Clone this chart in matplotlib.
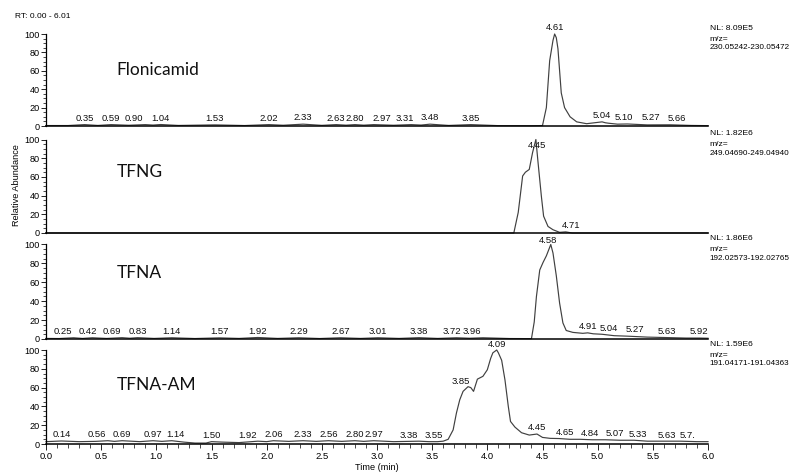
import numpy as np
import matplotlib
matplotlib.use("Agg")
import matplotlib.pyplot as plt
from matplotlib.ticker import MultipleLocator

plt.rcParams['font.family'] = ['Liberation Sans', 'DejaVu Sans']

# ---- data (time in min, relative abundance %) ----
flon_t = [0.00, 0.20, 0.35, 0.47, 0.59, 0.75, 0.90, 0.97, 1.04, 1.20, 1.53, 1.80, 2.02, 2.15,
          2.33, 2.50, 2.63, 2.72, 2.80, 2.88, 2.97, 3.15, 3.31, 3.40, 3.48, 3.65, 3.85, 4.10,
          4.40, 4.50, 4.535, 4.565, 4.595, 4.61, 4.625, 4.64, 4.655, 4.67, 4.70, 4.75, 4.81,
          4.90, 4.97, 5.04, 5.07, 5.10, 5.18, 5.27, 5.45, 5.66, 5.85, 6.00]
flon_y = [0.5, 0.5, 1.5, 0.6, 1.5, 0.8, 1.5, 1.0, 1.6, 0.6, 1.2, 0.5, 1.5, 0.8,
          2.0, 0.7, 1.5, 0.9, 1.5, 0.9, 1.5, 0.8, 1.5, 1.0, 2.0, 0.6, 1.5, 0.4,
          0.3, 0.5, 20, 71, 93, 100, 96, 84, 60, 36, 20, 10, 4.5,
          2.5, 3.5, 4.5, 3.5, 3.0, 2.0, 2.2, 1.2, 1.3, 0.6, 0.4]
flon_labels = ['0.35', '0.59', '0.90', '1.04', '1.53', '2.02', '2.33', '2.63', '2.80', '2.97',
               '3.31', '3.48', '3.85', '4.61', '5.04', '5.10', '5.27', '5.66']

tfng_t = [0.00, 4.24, 4.28, 4.32, 4.345, 4.38, 4.41, 4.44, 4.46, 4.49, 4.51, 4.55, 4.595,
          4.655, 4.71, 4.77, 6.00]
tfng_y = [0, 0, 22, 61, 65, 68, 86, 100, 75, 39, 18, 7, 3.5,
          0.7, 1.2, 0, 0]
tfng_labels = ['4.45', '4.71']

tfna_t = [0.00, 0.12, 0.25, 0.33, 0.42, 0.55, 0.69, 0.76, 0.83, 0.98, 1.14, 1.35, 1.57,
          1.75, 1.92, 2.10, 2.29, 2.48, 2.67, 2.85, 3.01, 3.20, 3.38, 3.55, 3.72, 3.84,
          3.96, 4.20, 4.40, 4.425, 4.445, 4.475, 4.505, 4.535, 4.575, 4.595, 4.625, 4.655,
          4.685, 4.715, 4.775, 4.865, 4.91, 4.96, 5.04, 5.15, 5.27, 5.45, 5.63, 5.80, 5.92, 6.00]
tfna_y = [0.6, 0.5, 1.3, 0.6, 1.3, 0.6, 1.4, 0.8, 1.4, 0.6, 1.3, 0.5, 1.2,
          0.6, 1.6, 0.6, 1.3, 0.5, 1.3, 0.6, 1.3, 0.6, 1.4, 0.6, 1.3, 0.8,
          1.3, 0.5, 0.4, 18, 45, 73, 81, 88, 100, 91, 67, 38,
          17, 9, 7, 6, 6.5, 5.5, 5.0, 3.5, 3.0, 2.0, 1.5, 1.0, 1.0, 0.8]
tfna_labels = ['0.25', '0.42', '0.69', '0.83', '1.14', '1.57', '1.92', '2.29', '2.67', '3.01',
               '3.38', '3.72', '3.96', '4.58', '4.91', '5.04', '5.27', '5.63', '5.92']

am_t = [0.00, 0.14, 0.30, 0.45, 0.56, 0.62, 0.69, 0.85, 0.97, 1.05, 1.14, 1.25, 1.35, 1.45,
        1.50, 1.60, 1.75, 1.92, 2.00, 2.06, 2.20, 2.33, 2.45, 2.56, 2.68, 2.80, 2.88, 2.97,
        3.15, 3.38, 3.47, 3.55, 3.60, 3.645, 3.69, 3.72, 3.75, 3.78, 3.825, 3.85, 3.875,
        3.91, 3.96, 4.00, 4.03, 4.05, 4.085, 4.10, 4.13, 4.16, 4.19, 4.21, 4.25, 4.31, 4.38,
        4.45, 4.50, 4.57, 4.65, 4.75, 4.84, 4.95, 5.07, 5.20, 5.33, 5.45, 5.63, 5.75, 5.90, 6.00]
am_y = [2.5, 3.2, 2.5, 2.8, 3.5, 2.8, 3.5, 2.5, 3.5, 2.8, 3.5, 2.0, 1.0, 1.0,
        2.5, 2.0, 1.5, 3.0, 2.5, 3.5, 2.8, 3.5, 2.8, 3.5, 2.8, 3.5, 2.8, 3.5,
        2.5, 3.0, 2.5, 2.5, 3.0, 5, 15, 33, 47, 56, 61, 60, 56,
        69, 72, 79, 91, 97, 100, 97, 89, 68, 40, 24, 18, 12, 9.5,
        10.6, 7, 6, 5.8, 5.0, 5.0, 4.5, 4.5, 4.0, 4.0, 3.0, 3.0, 3.0, 2.5, 2.5]
am_labels = ['0.14', '0.56', '0.69', '0.97', '1.14', '1.50', '1.92', '2.06', '2.33', '2.56',
             '2.80', '2.97', '3.38', '3.55', '3.85', '4.09', '4.45', '4.65', '4.84', '5.07',
             '5.33', '5.63', '5.7.']

names = ['Flonicamid', 'TFNG', 'TFNA', 'TFNA-AM']
nl_text = ['NL: 8.09E5', 'NL: 1.82E6', 'NL: 1.86E6', 'NL: 1.59E6']
mz_text = ['230.05242-230.05472', '249.04690-249.04940',
           '192.02573-192.02765', '191.04171-191.04363']

traces = [(flon_t, flon_y, flon_labels), (tfng_t, tfng_y, tfng_labels),
          (tfna_t, tfna_y, tfna_labels), (am_t, am_y, am_labels)]

# label nudges (pixels) where the software spread crowded labels apart
nudge = [
    {'0.90': -11, '2.97': 8, '3.31': -6, '5.10': 15, '5.27': 24, '5.66': 6},
    {'4.71': 5},
    {'0.25': -11, '0.42': -4, '0.69': -10, '3.72': -5, '3.96': -11, '4.58': -3,
     '5.04': 7, '5.27': 8},
    {'0.56': -11, '1.14': 4, '1.92': -10, '3.38': -10, '3.55': -4, '3.85': -10,
     '4.65': 6, '4.84': 10, '5.07': 10, '5.33': 4, '5.7.': 13},
]

# panel pixel extents (top, bottom) in the 794x474 figure
W, H = 794, 474
x0, x1 = 46, 708
panels_px = [(34, 126), (139.5, 233), (244.5, 339), (350, 444)]
name_pos = [0.61, 0.656, 0.695, 0.628]

fig = plt.figure(figsize=(W / 100, H / 100), dpi=100)
fig.text(15 / W, 1 - 16 / H, 'RT: 0.00 - 6.01', fontsize=6, va='center', ha='left')
fig.text(17 / W, 1 - 185 / H, 'Relative Abundance', fontsize=6.6, rotation=90,
         va='center', ha='center')

line_col = '#404040'
for i, (t, y, labels) in enumerate(traces):
    top, bot = panels_px[i]
    ax = fig.add_axes([x0 / W, 1 - bot / H, (x1 - x0) / W, (bot - top) / H])
    ax.plot(t, y, color=line_col, lw=0.85, clip_on=False)
    ax.set_xlim(0, 6)
    ax.set_ylim(0, 100)
    for s in ['top', 'right']:
        ax.spines[s].set_visible(False)
    ax.spines['left'].set_linewidth(0.9)
    ax.spines['bottom'].set_linewidth(1.1)

    ax.yaxis.set_major_locator(MultipleLocator(20))
    ax.yaxis.set_minor_locator(MultipleLocator(5))
    ax.tick_params(axis='y', which='major', length=3.5, width=0.6, pad=1.2, labelsize=6.6)
    ax.tick_params(axis='y', which='minor', length=2, width=0.5)

    if i < 3:
        ax.tick_params(axis='x', which='both', bottom=False, labelbottom=False)
    else:
        ax.xaxis.set_major_locator(MultipleLocator(0.5))
        ax.xaxis.set_minor_locator(MultipleLocator(0.1))
        ax.xaxis.set_major_formatter(lambda v, p: f'{v:.1f}')
        ax.tick_params(axis='x', which='major', length=4, width=0.6, pad=2, labelsize=6.8)
        ax.tick_params(axis='x', which='minor', length=3, width=0.5)
        ax.set_xlabel('Time (min)', fontsize=6.6, labelpad=1.5)

    # peak retention-time labels
    for lab in labels:
        rt = float(lab.rstrip('.'))
        yv = float(np.interp(rt, t, y))
        dx = nudge[i].get(lab, 0) * 0.72
        ax.annotate(lab, xy=(rt, yv), xytext=(dx, 1.2), textcoords='offset points',
                    ha='center', va='bottom', fontsize=6.8, color='#111111')

    # compound name
    ax.text(0.107, name_pos[i], names[i], transform=ax.transAxes, family='Lato',
            fontsize=12.5, ha='left', va='center', color='#111111')

    # NL / m/z block on the right
    ax.annotate(nl_text[i], xy=(1, 1), xycoords='axes fraction', xytext=(1.2, 4.3),
                textcoords='offset points', ha='left', va='center', fontsize=6.1)
    ax.annotate('m/z=', xy=(1, 1), xycoords='axes fraction', xytext=(1.2, -3.8),
                textcoords='offset points', ha='left', va='center', fontsize=6.1)
    ax.annotate(mz_text[i], xy=(1, 1), xycoords='axes fraction', xytext=(1.2, -9.8),
                textcoords='offset points', ha='left', va='center', fontsize=5.85)

fig.savefig('out.png', dpi=100)
